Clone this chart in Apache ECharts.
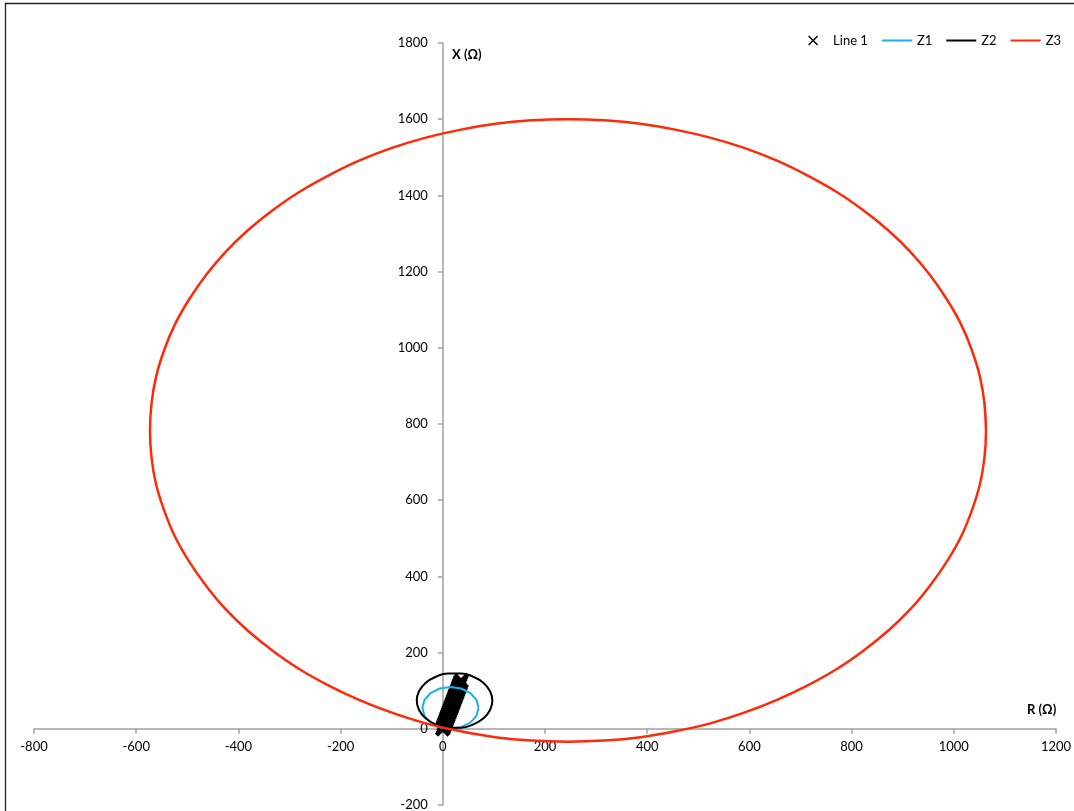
<!DOCTYPE html>
<html>
<head>
<meta charset="utf-8">
<script src="https://cdn.jsdelivr.net/npm/echarts@6/dist/echarts.min.js"></script>
<style>
  html, body { margin: 0; padding: 0; background: #fff; }
  #chart { width: 1074px; height: 811px; }
</style>
</head>
<body>
<div id="chart"></div>
<script>
// Impedance plane: relay characteristic circles Z1, Z2, Z3 and the line trace.
const seriesNames = ['Line 1', 'Z1', 'Z2', 'Z3'];

// Line 1 trace [R, X] in ohms
const line1 = [
  [0, 0], [1.4, 5], [2.9, 10], [4.3, 15], [5.7, 20], [7.1, 25], [8.6, 30],
  [10, 35], [11.4, 40], [12.9, 45], [14.3, 50], [15.7, 55], [17.1, 60],
  [18.6, 65], [20, 70], [21.4, 75], [22.9, 80], [24.3, 85], [25.7, 90],
  [27.1, 95], [28.6, 100], [30, 105], [31.4, 110], [32.9, 115], [34.3, 120],
  [35.7, 125]
];

// Zone 1 characteristic [R, X]
const z1 = [
  [70, 55], [65.8, 76], [53.9, 93.9], [36, 105.8], [15, 110], [-6, 105.8],
  [-23.9, 93.9], [-35.8, 76], [-40, 55], [-35.8, 34], [-23.9, 16.1],
  [-6, 4.2], [15, 0], [36, 4.2], [53.9, 16.1], [65.8, 34], [70, 55]
];

// Zone 2 characteristic [R, X]
const z2 = [
  [97, 74], [92.5, 98.6], [79.7, 120.3], [60, 136.4], [35.8, 145], [10.2, 145],
  [-14, 136.4], [-33.7, 120.3], [-46.5, 98.6], [-51, 74], [-46.5, 49.4],
  [-33.7, 27.7], [-14, 11.6], [10.2, 2.9], [35.8, 2.9], [60, 11.6],
  [79.7, 27.7], [92.5, 49.4], [97, 74], [92.5, 98.6]
];

// Zone 3 characteristic [R, X]
const z3 = [
  [1063, 783], [1060, 854], [1051, 925], [1035, 995], [1014, 1062], [986, 1128],
  [953, 1192], [915, 1252], [872, 1308], [823, 1361], [771, 1409], [714, 1452],
  [654, 1491], [591, 1524], [525, 1551], [457, 1572], [387, 1588], [316, 1597],
  [245, 1600], [174, 1597], [103, 1588], [33, 1572], [-35, 1551], [-101, 1524],
  [-164, 1491], [-224, 1452], [-281, 1409], [-333, 1361], [-382, 1308],
  [-425, 1252], [-463, 1192], [-496, 1128], [-524, 1062], [-545, 995],
  [-561, 925], [-570, 854], [-573, 783], [-570, 712], [-561, 641], [-545, 572],
  [-524, 504], [-496, 438], [-463, 375], [-425, 314], [-382, 258], [-333, 205],
  [-281, 157], [-224, 114], [-164, 76], [-101, 43], [-35, 15], [33, -6],
  [103, -22], [174, -31], [245, -34], [316, -31], [387, -22], [457, -6],
  [525, 15], [591, 43], [654, 76], [714, 114], [771, 157], [823, 205],
  [872, 258], [915, 314], [953, 375], [986, 438], [1014, 504], [1035, 572],
  [1051, 641], [1060, 712], [1063, 783], [1060, 854]
];

// Axis ranges and tick spacing
const rAxis = { min: -800, max: 1200, step: 200 };
const xAxisRange = { min: -200, max: 1800, step: 200 };

const FONT = 'Lato, "Open Sans", sans-serif';
// heavy cross for the plotted markers, thin cross for the legend key
const crossSymbol = 'path://M0,2 L2,0 L5,3 L8,0 L10,2 L7,5 L10,8 L8,10 L5,7 L2,10 L0,8 L3,5 Z';
const crossIcon = 'path://M0,1 L1,0 L5,4 L9,0 L10,1 L6,5 L10,9 L9,10 L5,6 L1,10 L0,9 L4,5 Z';
const lineIcon = 'path://M0,0 L30,0 L30,2 L0,2 Z';

// plot area in pixels
const G = { left: 34, right: 18, top: 43, bottom: 6 };
const plotW = 1074 - G.left - G.right;
const plotH = 811 - G.top - G.bottom;
// both axes cross at the origin
const xAxisShift = -plotH * (0 - xAxisRange.min) / (xAxisRange.max - xAxisRange.min);
const yAxisShift = -plotW * (0 - rAxis.min) / (rAxis.max - rAxis.min);

const chart = echarts.init(document.getElementById('chart'), null, { renderer: 'canvas' });

const axisColor = '#a0a0a0';
const labelStyle = {
  color: '#000', fontFamily: FONT, fontSize: 13,
  formatter: v => String(v)
};

chart.setOption({
  animation: false,
  backgroundColor: '#fff',
  grid: Object.assign({ containLabel: false, outerBoundsMode: 'none' }, G),
  xAxis: {
    type: 'value', position: 'bottom', offset: xAxisShift,
    min: rAxis.min, max: rAxis.max, interval: rAxis.step,
    splitLine: { show: false },
    axisLine: { show: true, onZero: false, lineStyle: { color: axisColor, width: 1.5 } },
    axisTick: { show: true, inside: false, length: 5, lineStyle: { color: axisColor, width: 1.5 } },
    axisLabel: Object.assign({ margin: 12 }, labelStyle)
  },
  yAxis: {
    type: 'value', position: 'left', offset: yAxisShift,
    min: xAxisRange.min, max: xAxisRange.max, interval: xAxisRange.step,
    splitLine: { show: false },
    axisLine: { show: true, onZero: false, lineStyle: { color: axisColor, width: 1.5 } },
    axisTick: { show: true, inside: false, length: 5, lineStyle: { color: axisColor, width: 1.5 } },
    axisLabel: Object.assign({ margin: 15 }, labelStyle)
  },
  legend: {
    data: [
      { name: 'Line 1', icon: crossIcon },
      { name: 'Z1', icon: lineIcon },
      { name: 'Z2', icon: lineIcon },
      { name: 'Z3', icon: lineIcon }
    ],
    right: 8, top: 29,
    itemWidth: 30, itemHeight: 10, itemGap: 14,
    textStyle: { color: '#000', fontFamily: FONT, fontSize: 13 }
  },
  graphic: [
    {
      type: 'rect', silent: true, z: 100,
      shape: { x: 5.5, y: 3.5, width: 1200, height: 900 },
      style: { fill: 'none', stroke: '#222', lineWidth: 1.3 }
    },
    {
      type: 'text', left: 452, top: 48,
      style: { text: 'X (Ω)', fill: '#000', font: 'bold 13px ' + FONT }
    },
    {
      type: 'text', left: 1027, top: 703,
      style: { text: 'R (Ω)', fill: '#000', font: 'bold 13px ' + FONT }
    }
  ],
  series: [
    {
      name: 'Z1', type: 'line', data: z1, symbol: 'none', smooth: false,
      lineStyle: { color: '#1cb1e6', width: 2 }, itemStyle: { color: '#1cb1e6' }
    },
    {
      name: 'Line 1', type: 'scatter', data: line1,
      symbol: crossSymbol, symbolSize: 16,
      itemStyle: { color: '#000', opacity: 1 }
    },
    {
      name: 'Z2', type: 'line', data: z2, symbol: 'none', smooth: 0.5,
      lineStyle: { color: '#000', width: 2 }, itemStyle: { color: '#000' }
    },
    {
      name: 'Z3', type: 'line', data: z3, symbol: 'none', smooth: 0.3,
      lineStyle: { color: '#ff2a08', width: 2.5 }, itemStyle: { color: '#ff2a08' }
    }
  ]
});
</script>
</body>
</html>
